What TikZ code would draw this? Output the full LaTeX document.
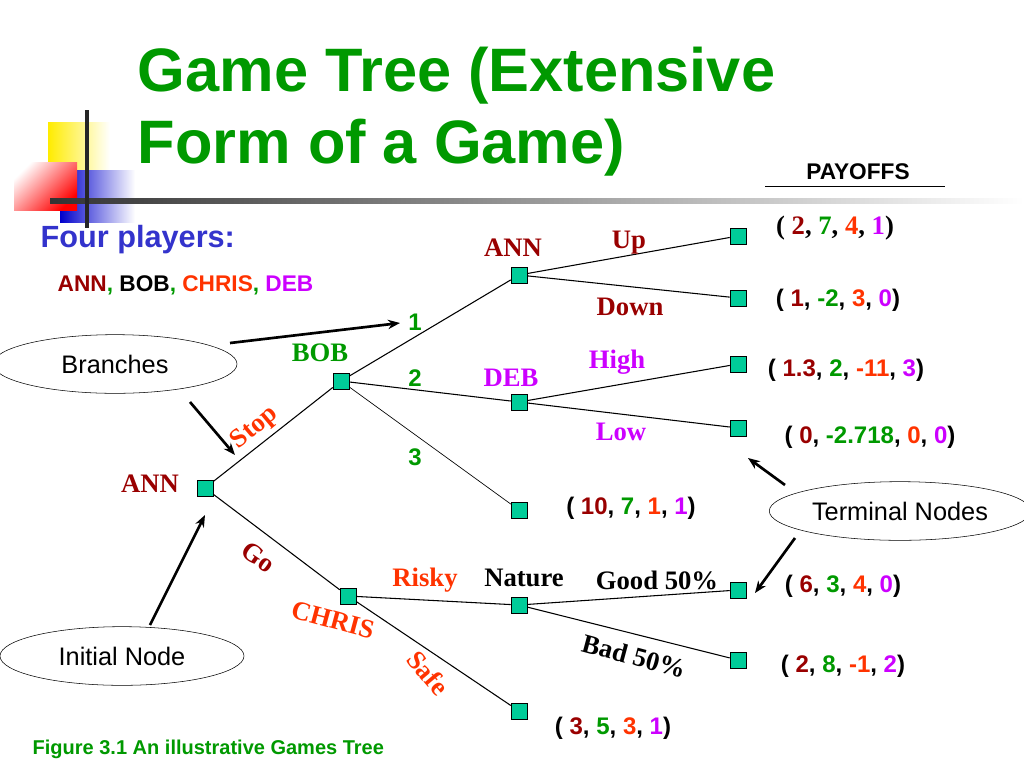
\documentclass[tikz,border=0pt]{standalone}
\usepackage{fontspec}
\setmainfont{Liberation Serif}
\setsansfont{Liberation Sans}
\usetikzlibrary{shapes.geometric,arrows.meta}
\definecolor{dr}{HTML}{990000}
\definecolor{gr}{HTML}{009900}
\definecolor{og}{HTML}{FF3300}
\definecolor{pu}{HTML}{CC00FF}
\definecolor{tq}{HTML}{00CC99}
\definecolor{bl}{HTML}{3333CC}
\begin{document}
\begin{tikzpicture}[x=0.75pt,y=-0.75pt,
 gn/.style={draw=black,fill=tq,minimum size=12pt,inner sep=0pt},
 lab/.style={font=\rmfamily\bfseries\fontsize{20}{22}\selectfont,inner sep=1pt},
 pay/.style={font=\sffamily\bfseries\fontsize{18}{20}\selectfont},
 ell/.style={draw,ellipse,minimum width=183pt,minimum height=44pt,font=\sffamily\fontsize{19}{22}\selectfont},
 edge/.style={line width=0.8pt},
 arr/.style={line width=2pt,-{Stealth[length=9pt,width=7pt]}}]
\useasboundingbox (0,0) rectangle (1024,768);
% decoration
\shade[left color=yellow!85!orange,right color=white] (48,122) rectangle (110,175);
\shade[left color=blue!80!black,right color=white] (60,170) rectangle (135,222);
\shade[right color=red,left color=white,shading angle=45] (14,162) rectangle (77,210);
\shade[left color=black!80,right color=white] (50,198) rectangle (1024,203);
\fill[black!85] (85,110) rectangle (89,228);
% title
\node[anchor=west,text=gr,font=\sffamily\bfseries\fontsize{46}{54}\selectfont,align=left] (title) at (133,112) {Game Tree (Extensive\\Form of a Game)};
\node[font=\sffamily\bfseries\fontsize{17}{20}\selectfont] (payoffs) at (858,172) {PAYOFFS};
\draw (765,186) -- (945,186);
\node[anchor=west,text=bl,font=\sffamily\bfseries\fontsize{23}{26}\selectfont] (four) at (36,240) {Four players:};
\node[anchor=west,font=\sffamily\bfseries\fontsize{17}{20}\selectfont] (names) at (53,285) {\textcolor{dr}{ANN}\textcolor{gr}{,} BOB\textcolor{gr}{,} \textcolor{og}{CHRIS}\textcolor{gr}{,} \textcolor{pu}{DEB}};
% game nodes
\node[gn] (a) at (205,488) {};
\node[gn] (b) at (341,381) {};
\node[gn] (a2) at (519,275) {};
\node[gn] (d) at (519,402) {};
\node[gn] (t3) at (519,510) {};
\node[gn] (c) at (348,596) {};
\node[gn] (n) at (519,605) {};
\node[gn] (ts) at (519,711) {};
\node[gn] (tu) at (738,236) {};
\node[gn] (td) at (738,298) {};
\node[gn] (th) at (738,364) {};
\node[gn] (tl) at (738,428) {};
\node[gn] (tg) at (738,590) {};
\node[gn] (tb) at (738,660) {};
\draw[edge] (a)--(b); \draw[edge] (a)--(c);
\draw[edge] (b)--(a2); \draw[edge] (b)--(d); \draw[line width=0.5pt] (b)--(t3);
\draw[edge] (a2)--(tu); \draw[edge] (a2)--(td);
\draw[edge] (d)--(th); \draw[edge] (d)--(tl);
\draw[edge] (c)--(n); \draw[edge] (c)--(ts);
\draw[edge] (n)--(tg); \draw[edge] (n)--(tb);
% labels
\node[lab,text=dr] (la) at (150,484) {ANN};
\node[lab,text=gr] (lb) at (320,353) {BOB};
\node[lab,text=dr] (la2) at (513,248) {ANN};
\node[lab,text=dr] (lu) at (629,243) {Up};
\node[lab,text=dr] (ld) at (630,307) {Down};
\node[lab,text=pu] (ldeb) at (511,378) {DEB};
\node[lab,text=pu] (lh) at (617,362) {High};
\node[lab,text=pu] (ll) at (621,432) {Low};
\node[lab,text=og,rotate=40] (ls) at (255,428) {Stop};
\node[lab,text=dr,rotate=-35] (lg) at (258,557) {Go};
\node[lab,text=og,rotate=-15] (lc) at (333,620) {CHRIS};
\node[lab,text=og] (lr) at (425,580) {Risky};
\node[lab] (ln) at (524,578) {Nature};
\node[lab] (lgood) at (657,580) {Good 50\%};
\node[lab,rotate=-15] (lbad) at (634,656) {Bad 50\%};
\node[lab,text=og,rotate=-50] (lsafe) at (428,673) {Safe};
\node[pay,text=gr] (l1) at (415,322) {1};
\node[pay,text=gr] (l2) at (415,378) {2};
\node[pay,text=gr] (l3) at (415,457) {3};
% payoffs
\node[font=\rmfamily\bfseries\fontsize{20}{22}\selectfont] (pu) at (835,228) {( \textcolor{dr}{2}, \textcolor{gr}{7}, \textcolor{og}{4}, \textcolor{pu}{1})};
\node[pay] (pd) at (838,300) {( \textcolor{dr}{1}, \textcolor{gr}{-2}, \textcolor{og}{3}, \textcolor{pu}{0})};
\node[pay] (ph) at (846,370) {( \textcolor{dr}{1.3}, \textcolor{gr}{2}, \textcolor{og}{-11}, \textcolor{pu}{3})};
\node[pay] (pl) at (870,437) {( \textcolor{dr}{0}, \textcolor{gr}{-2.718}, \textcolor{og}{0}, \textcolor{pu}{0})};
\node[pay] (p3) at (631,508) {( \textcolor{dr}{10}, \textcolor{gr}{7}, \textcolor{og}{1}, \textcolor{pu}{1})};
\node[pay] (pg) at (843,586) {( \textcolor{dr}{6}, \textcolor{gr}{3}, \textcolor{og}{4}, \textcolor{pu}{0})};
\node[pay] (pb) at (843,666) {( \textcolor{dr}{2}, \textcolor{gr}{8}, \textcolor{og}{-1}, \textcolor{pu}{2})};
\node[pay] (ps) at (613,728) {( \textcolor{dr}{3}, \textcolor{gr}{5}, \textcolor{og}{3}, \textcolor{pu}{1})};
% callouts
\node[ell] (br) at (115,364) {Branches};
\node[ell] (tn) at (900,511) {Terminal Nodes};
\node[ell] (in) at (122,656) {Initial Node};
\coordinate (e1) at (400,323);
\coordinate (e2) at (235,455);
\coordinate (e3) at (205,515);
\coordinate (e4) at (748,458);
\coordinate (e5) at (755,593);
\draw[arr] (230,343) -- (e1);
\draw[arr] (190,402) -- (e2);
\draw[arr] (150,625) -- (e3);
\draw[arr] (785,485) -- (e4);
\draw[arr] (795,538) -- (e5);
\node[anchor=west,text=gr,font=\sffamily\bfseries\fontsize{15}{18}\selectfont] (cap) at (28,749) {Figure 3.1 An illustrative Games Tree};
\end{tikzpicture}
\end{document}
